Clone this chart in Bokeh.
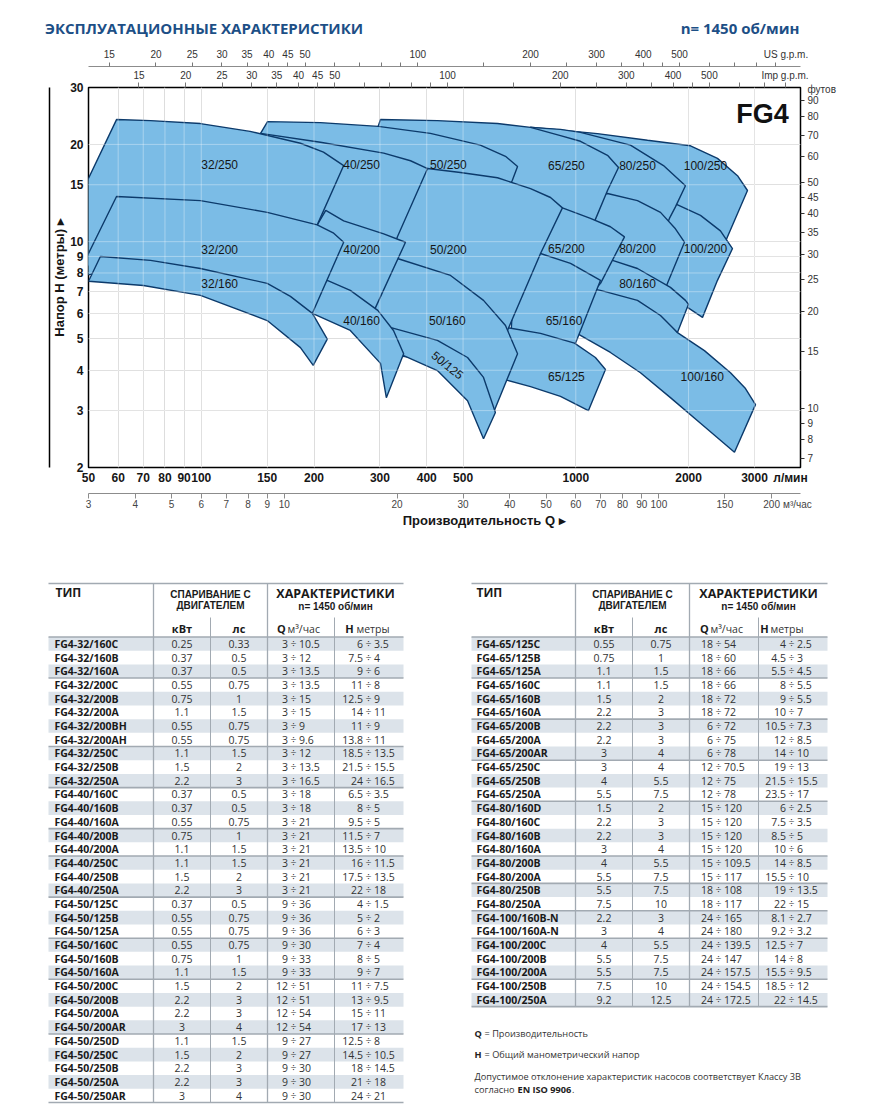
from bokeh.plotting import figure
from bokeh.models import (Range1d, LogScale, LogAxis, LinearAxis, FixedTicker,
                          BasicTickFormatter, ColumnDataSource)
from bokeh.embed import file_html
from bokeh.resources import INLINE
from bokeh.core.properties import value

# ---------------------------------------------------------------- data
# pump coverage areas, outline vertices: flow Q (l/min), head H (m)
q_100_250 = [757, 1142, 1554, 2024, 2389, 2702, 2873, 2541, 2404, 1903, 1164, 757]
h_100_250 = [22.6, 21.6, 20.6, 19.8, 18.1, 16.0, 14.4, 10.35, 8.87, 10.1, 13.4, 14.4]
q_100_200 = [1488, 1683, 1845, 2152, 2433, 2620, 2389, 2179, 1987, 1582, 1276]
h_100_200 = [14.4, 13.8, 13.1, 12.06, 10.8, 9.52, 7.59, 5.83, 6.26, 7.07, 8.44]
q_100_160 = [968, 1316, 1683, 1868, 2205, 2588, 2838, 3018, 2652, 2152, 1789, 1488, 1237, 1029, 938]
h_100_160 = [7.86, 7.16, 6.04, 5.23, 4.60, 3.93, 3.51, 3.13, 2.23, 2.74, 3.29, 3.93, 4.54, 5.13, 5.50]
q_80_250 = [757, 910, 1029, 1399, 1714, 1962, 1845, 1778, 1683, 1316, 1029, 757]
h_80_250 = [22.58, 22.26, 21.79, 19.9, 17.2, 14.9, 12.81, 11.80, 10.1, 11.2, 13.4, 17.8]
q_80_200 = [1029, 1215, 1461, 1683, 1845, 1950, 1757, 1683, 1316, 1094]
h_80_200 = [13.61, 14.10, 13.4, 12.32, 10.96, 9.96, 7.43, 6.58, 7.59, 9.39]
q_80_160 = [1094, 1253, 1461, 1789, 1962, 1999, 1868, 1683, 1461, 1164, 1061]
h_80_160 = [9.26, 8.75, 8.26, 7.22, 6.58, 6.40, 5.23, 5.91, 6.58, 7.07, 7.22]
q_65_250 = [301, 427, 618, 757, 910, 1029, 1215, 1300, 1215, 1128, 1061, 805, 463, 310, 296]
h_65_250 = [23.87, 23.7, 23.2, 22.58, 21.3, 20.45, 18.5, 16.96, 14.4, 11.72, 10.1, 11.2, 13.4, 15.5, 22.58]
q_65_200 = [712, 921, 1094, 1237, 1349, 1164, 1061, 805, 712]
h_65_200 = [13.4, 12.72, 11.80, 11.12, 10.35, 7.43, 6.58, 7.32, 8.14]
q_65_160 = [690, 805, 968, 1164, 998, 938, 669]
h_65_160 = [9.39, 9.19, 8.57, 7.59, 4.85, 4.44, 4.77]
q_65_125 = [610, 657, 805, 992, 1128, 1200, 1081, 910, 757, 657, 592]
h_65_125 = [5.31, 5.42, 5.20, 4.85, 4.38, 4.02, 3.00, 3.32, 3.56, 3.72, 3.77]
q_50_250 = [150.3, 208, 297, 409, 556, 649, 699, 677, 649, 409, 250, 146, 144]
h_50_250 = [23.53, 23.36, 22.74, 21.63, 19.9, 18.37, 17.08, 15.5, 13.9, 14.9, 17.2, 19.2, 21.63]
q_50_200 = [330, 402, 492, 618, 757, 856, 921, 805, 657, 629, 463, 330]
h_50_200 = [16.37, 16.84, 16.37, 15.77, 14.59, 13.70, 12.72, 9.19, 5.31, 4.77, 6.58, 8.14]
q_50_160 = [301, 334, 463, 567, 649, 699, 603, 574, 435, 330, 292, 283]
h_50_160 = [8.63, 8.87, 7.86, 6.58, 5.50, 4.50, 2.96, 2.80, 4.29, 4.44, 5.31, 6.58]
q_50_125 = [283, 314, 427, 514, 567, 610, 567, 514, 427, 347, 310]
h_50_125 = [5.62, 5.46, 4.95, 4.38, 3.80, 2.96, 2.455, 3.22, 3.99, 4.44, 4.60]
q_40_250 = [131, 144, 208, 307, 362, 402, 334, 320, 221, 184, 131]
h_40_250 = [20.6, 21.63, 20.31, 18.79, 17.8, 16.84, 10.35, 9.06, 11.2, 13.4, 14.4]
q_40_200 = [215, 240, 307, 351, 288, 280, 221, 202, 204]
h_40_200 = [12.5, 11.6, 10.57, 9.96, 6.04, 5.50, 6.58, 7.07, 11.27]
q_40_160 = [217, 250, 296, 326, 347, 312, 301, 250, 198, 184]
h_40_160 = [7.59, 7.07, 6.13, 5.31, 4.50, 3.29, 4.20, 5.31, 6.0, 6.13]
q_32_250 = [59.4, 73.2, 99.5, 135, 184, 212, 240, 204, 184, 73.2, 42.1, 42.1]
h_32_250 = [23.87, 23.7, 23.2, 21.94, 20.16, 18.93, 17.2, 11.27, 8.75, 8.44, 8.44, 10.35]
q_32_200 = [59.4, 99.5, 150, 204, 225, 240, 198, 184, 150, 99.5, 53.8, 42.1, 42.1]
h_32_200 = [13.80, 13.4, 12.32, 11.27, 10.65, 9.96, 6.0, 5.13, 6.58, 7.48, 8.03, 7.59, 6.13]
q_32_160 = [53.8, 73.2, 99.5, 150, 173, 198, 217, 199, 184, 150, 99.5, 70.1, 50]
h_32_160 = [9.0, 8.75, 8.26, 7.43, 6.77, 6.0, 4.99, 4.14, 4.70, 5.70, 6.82, 7.32, 7.54]

# drawing order: back to front
area_q = [q_100_250, q_100_200, q_100_160, q_80_250, q_80_200, q_80_160,
          q_65_250, q_65_200, q_65_160, q_65_125, q_50_250, q_50_200, q_50_160, q_50_125,
          q_40_250, q_40_200, q_40_160, q_32_250, q_32_200, q_32_160]
area_h = [h_100_250, h_100_200, h_100_160, h_80_250, h_80_200, h_80_160,
          h_65_250, h_65_200, h_65_160, h_65_125, h_50_250, h_50_200, h_50_160, h_50_125,
          h_40_250, h_40_200, h_40_160, h_32_250, h_32_200, h_32_160]

area_label = ["32/250", "40/250", "50/250", "65/250", "80/250", "100/250",
              "32/200", "40/200", "50/200", "65/200", "80/200", "100/200",
              "32/160", "40/160", "50/160", "65/160", "80/160", "100/160", "65/125"]
area_label_q = [112, 268, 457, 944, 1461, 2219, 112, 268, 457, 944, 1461, 2219,
                112, 268, 454, 930, 1461, 2176, 944]
area_label_h = [17.3, 17.3, 17.3, 17.2, 17.2, 17.2, 9.45, 9.45, 9.45, 9.52, 9.52, 9.52,
                7.37, 5.70, 5.70, 5.70, 7.37, 3.80, 3.80]
tilted_label = ["50/125"]
tilted_label_q = [454]
tilted_label_h = [4.14]

lmin_ticks = [50, 60, 70, 80, 90, 100, 150, 200, 300, 400, 500, 1000, 2000, 3000]
m3h_ticks = [3, 4, 5, 6, 7, 8, 9, 10, 20, 30, 40, 50, 60, 70, 80, 90, 100, 150, 200]
us_major = [15, 20, 25, 30, 35, 40, 45, 50, 100, 200, 300, 400, 500]
us_minor = [60, 70, 80, 90, 150, 250, 350, 450, 600, 700, 800, 900]
imp_major = [15, 20, 25, 30, 35, 40, 45, 50, 100, 200, 300, 400, 500]
imp_minor = [60, 70, 80, 90, 150, 250, 350, 450, 600, 700, 800]
h_ticks = [2, 3, 4, 5, 6, 7, 8, 9, 10, 15, 20, 30]
ft_ticks = [7, 8, 9, 10, 15, 20, 25, 30, 35, 40, 45, 50, 60, 70, 80, 90]
grid_q = [60, 70, 80, 90, 100, 150, 200, 300, 400, 500, 1000, 2000, 3000]
grid_h = [3, 4, 5, 6, 7, 8, 9, 10, 15, 20]

# ---- tables
lt_type = ["FG4-32/160C", "FG4-32/160B", "FG4-32/160A", "FG4-32/200C", "FG4-32/200B", "FG4-32/200A",
           "FG4-32/200BH", "FG4-32/200AH", "FG4-32/250C", "FG4-32/250B", "FG4-32/250A",
           "FG4-40/160C", "FG4-40/160B", "FG4-40/160A", "FG4-40/200B", "FG4-40/200A",
           "FG4-40/250C", "FG4-40/250B", "FG4-40/250A", "FG4-50/125C", "FG4-50/125B", "FG4-50/125A",
           "FG4-50/160C", "FG4-50/160B", "FG4-50/160A", "FG4-50/200C", "FG4-50/200B", "FG4-50/200A",
           "FG4-50/200AR", "FG4-50/250D", "FG4-50/250C", "FG4-50/250B", "FG4-50/250A", "FG4-50/250AR"]
lt_kw = ["0.25", "0.37", "0.37", "0.55", "0.75", "1.1", "0.55", "0.55", "1.1", "1.5", "2.2",
         "0.37", "0.37", "0.55", "0.75", "1.1", "1.1", "1.5", "2.2", "0.37", "0.55", "0.55",
         "0.55", "0.75", "1.1", "1.5", "2.2", "2.2", "3", "1.1", "1.5", "2.2", "2.2", "3"]
lt_hp = ["0.33", "0.5", "0.5", "0.75", "1", "1.5", "0.75", "0.75", "1.5", "2", "3",
         "0.5", "0.5", "0.75", "1", "1.5", "1.5", "2", "3", "0.5", "0.75", "0.75",
         "0.75", "1", "1.5", "2", "3", "3", "4", "1.5", "2", "3", "3", "4"]
lt_qmin = ["3"] * 19 + ["9", "9", "9", "9", "9", "9", "12", "12", "12", "12", "9", "9", "9", "9", "9"]
lt_qmax = ["10.5", "12", "13.5", "13.5", "15", "15", "9", "9.6", "12", "13.5", "16.5",
           "18", "18", "21", "21", "21", "21", "21", "21", "36", "36", "36",
           "30", "33", "33", "51", "51", "54", "54", "27", "27", "30", "30", "30"]
lt_hmax = ["6", "7.5", "9", "11", "12.5", "14", "11", "13.8", "18.5", "21.5", "24",
           "6.5", "8", "9.5", "11.5", "13.5", "16", "17.5", "22", "4", "5", "6",
           "7", "8", "9", "11", "13", "15", "17", "12.5", "14.5", "18", "21", "24"]
lt_hmin = ["3.5", "4", "6", "8", "9", "11", "9", "11", "13.5", "15.5", "16.5",
           "3.5", "5", "5", "7", "10", "11.5", "13.5", "18", "1.5", "2", "3",
           "4", "5", "7", "7.5", "9.5", "11", "13", "8", "10.5", "14.5", "18", "21"]
lt_groups = [3, 5, 3, 3, 2, 3, 3, 3, 4, 5]

rt_type = ["FG4-65/125C", "FG4-65/125B", "FG4-65/125A", "FG4-65/160C", "FG4-65/160B", "FG4-65/160A",
           "FG4-65/200B", "FG4-65/200A", "FG4-65/200AR", "FG4-65/250C", "FG4-65/250B", "FG4-65/250A",
           "FG4-80/160D", "FG4-80/160C", "FG4-80/160B", "FG4-80/160A", "FG4-80/200B", "FG4-80/200A",
           "FG4-80/250B", "FG4-80/250A", "FG4-100/160B-N", "FG4-100/160A-N", "FG4-100/200C",
           "FG4-100/200B", "FG4-100/200A", "FG4-100/250B", "FG4-100/250A"]
rt_kw = ["0.55", "0.75", "1.1", "1.1", "1.5", "2.2", "2.2", "2.2", "3", "3", "4", "5.5",
         "1.5", "2.2", "2.2", "3", "4", "5.5", "5.5", "7.5", "2.2", "3", "4", "5.5", "5.5", "7.5", "9.2"]
rt_hp = ["0.75", "1", "1.5", "1.5", "2", "3", "3", "3", "4", "4", "5.5", "7.5",
         "2", "3", "3", "4", "5.5", "7.5", "7.5", "10", "3", "4", "5.5", "7.5", "7.5", "10", "12.5"]
rt_qmin = ["18"] * 6 + ["6"] * 3 + ["12"] * 3 + ["15"] * 6 + ["18"] * 2 + ["24"] * 7
rt_qmax = ["54", "60", "66", "66", "72", "72", "72", "75", "78", "70.5", "75", "78",
           "120", "120", "120", "120", "109.5", "117", "108", "117", "165", "180", "139.5",
           "147", "157.5", "154.5", "172.5"]
rt_hmax = ["4", "4.5", "5.5", "8", "9", "10", "10.5", "12", "14", "19", "21.5", "23.5",
           "6", "7.5", "8.5", "10", "14", "15.5", "19", "22", "8.1", "9.2", "12.5", "14", "15.5", "18.5", "22"]
rt_hmin = ["2.5", "3", "4.5", "5.5", "5.5", "7", "7.3", "8.5", "10", "13", "15.5", "17",
           "2.5", "3.5", "5", "6", "8.5", "10", "13.5", "15", "2.7", "3.2", "7", "8", "9.5", "12", "14.5"]
rt_groups = [3, 3, 3, 3, 4, 2, 2, 2, 3, 2]

# ---------------------------------------------------------------- style
NARROW = "Liberation Sans"
SANS = "Liberation Sans"
OPEN = "Open Sans"
TITLE_BLUE = "#1d4f86"
FILL = "#7bbce6"
EDGE = "#0c3a6b"
SHADE = "#dce3ea"
RULE = "#a2aab2"

L_PER_USGAL = 3.78541
L_PER_IMPGAL = 4.54609
M3H_PER_LMIN = 0.06
M_PER_FT = 0.3048
Q_MIN, Q_MAX = 50, 3980
H_MIN, H_MAX = 2, 30

PAGE_W, PAGE_H = 877, 1117
FX0, FX1, FY0, FY1 = 88, 800, 87, 467      # plot frame on the page (px)
CHART_BOTTOM = 84                             # border below the frame
CHART_H = FY1 + CHART_BOTTOM


def q_at(px):
    return Q_MIN * (Q_MAX / Q_MIN) ** ((px - FX0) / (FX1 - FX0))


def h_at(py):
    return H_MIN * (H_MAX / H_MIN) ** ((FY1 - py) / (FY1 - FY0))


# positions of caption texts carried by axes (page px -> axis units)
title_ticks = [q_at(205.5), q_at(739.5)]
title_texts = ["ЭКСПЛУАТАЦИОННЫЕ  ХАРАКТЕРИСТИКИ", "n= 1450 об/мин"]
lmin_unit = q_at(790)
m3h_unit = q_at(797) * M3H_PER_LMIN
us_unit = q_at(785.5) / L_PER_USGAL
imp_unit = q_at(784.5) / L_PER_IMPGAL
ft_unit = h_at(89) / M_PER_FT
xtitle_tick = q_at(485.5)

# ---------------------------------------------------------------- chart
p = figure(x_axis_type="log", y_axis_type="log",
           x_range=Range1d(Q_MIN, Q_MAX), y_range=Range1d(H_MIN, H_MAX),
           frame_width=FX1 - FX0, frame_height=FY1 - FY0,
           min_border_left=FX0, min_border_right=PAGE_W - FX1, min_border_top=FY0,
           min_border_bottom=CHART_BOTTOM, toolbar_location=None, output_backend="svg")
p.outline_line_color = "black"
p.outline_line_width = 1.5

p.extra_x_ranges = {"us": Range1d(Q_MIN / L_PER_USGAL, Q_MAX / L_PER_USGAL),
                    "imp": Range1d(Q_MIN / L_PER_IMPGAL, Q_MAX / L_PER_IMPGAL),
                    "m3h": Range1d(Q_MIN * M3H_PER_LMIN, Q_MAX * M3H_PER_LMIN)}
p.extra_x_scales = {"us": LogScale(), "imp": LogScale(), "m3h": LogScale()}
p.extra_y_ranges = {"ft": Range1d(H_MIN / M_PER_FT, H_MAX / M_PER_FT)}
p.extra_y_scales = {"ft": LogScale()}

p.xgrid.ticker = FixedTicker(ticks=grid_q)
p.ygrid.ticker = FixedTicker(ticks=grid_h)
p.xgrid.grid_line_color = "#d6d6d6"
p.ygrid.grid_line_color = "#d6d6d6"

p.patches(xs=area_q, ys=area_h, fill_color=FILL, line_color=EDGE, line_width=1.4)
# light grid lines showing through the coloured areas
p.segment(x0=grid_q, x1=grid_q, y0=H_MIN, y1=H_MAX, line_color="white", line_alpha=0.35, line_width=1)
p.segment(x0=Q_MIN, x1=Q_MAX, y0=grid_h, y1=grid_h, line_color="white", line_alpha=0.35, line_width=1)

p.text(x=area_label_q, y=area_label_h, text=area_label, text_font=value(NARROW),
       text_font_size="12px", text_color="#161616", text_align="center", text_baseline="middle")
p.text(x=tilted_label_q, y=tilted_label_h, text=tilted_label, text_font=value(NARROW),
       text_font_size="12px", text_color="#161616", text_align="center", text_baseline="middle",
       angle=-0.68)
p.text(x=[q_at(762)], y=[h_at(113)], text=["FG4"], text_font=value(NARROW), text_font_size="27px",
       text_font_style="bold", text_color="#111111", text_align="center", text_baseline="middle")

# bottom axes
xa = p.xaxis[0]
xa.ticker = FixedTicker(ticks=lmin_ticks + [lmin_unit])
xa.formatter = BasicTickFormatter()
xa.major_label_overrides = {lmin_unit: "л/мин"}
xa.axis_line_color = None
xa.major_tick_line_color = None
xa.minor_tick_line_color = None
xa.major_tick_out = 0
xa.major_tick_in = 0
xa.major_label_standoff = 3
xa.major_label_text_font = NARROW
xa.major_label_text_font_style = "bold"
xa.major_label_text_font_size = "12px"
xa.major_label_text_color = "#161616"
xa.axis_label = " "
xa.axis_label_standoff = 0
xa.axis_label_text_font_size = "3px"

ma = LogAxis(x_range_name="m3h", ticker=FixedTicker(ticks=m3h_ticks + [m3h_unit], minor_ticks=m3h_ticks),
             formatter=BasicTickFormatter(), major_label_overrides={m3h_unit: "м³/час"},
             axis_line_color="#8c8c8c", major_tick_line_color=None, minor_tick_line_color="#8c8c8c",
             major_tick_out=0, major_tick_in=0, minor_tick_out=5, minor_tick_in=0,
             major_label_standoff=0, major_label_text_font=NARROW, major_label_text_font_size="10px",
             major_label_text_color="#444444")
p.add_layout(ma, "below")

xt = LogAxis(ticker=FixedTicker(ticks=[xtitle_tick]), formatter=BasicTickFormatter(),
             major_label_overrides={xtitle_tick: "Производительность  Q ▸"},
             axis_line_color=None, major_tick_line_color=None, minor_tick_line_color=None,
             major_tick_out=0, major_tick_in=0, major_label_standoff=0,
             major_label_text_font=SANS, major_label_text_font_style="bold",
             major_label_text_font_size="13px", major_label_text_color="#161616")
p.add_layout(xt, "below")

# top axes
ia = LogAxis(x_range_name="imp", ticker=FixedTicker(ticks=imp_major + [imp_unit], minor_ticks=imp_major + imp_minor),
             formatter=BasicTickFormatter(), major_label_overrides={imp_unit: "Imp g.p.m."},
             axis_line_color=None, major_tick_line_color=None, minor_tick_line_color="#777777",
             major_tick_out=0, major_tick_in=0, minor_tick_out=5, minor_tick_in=0,
             major_label_standoff=2, major_label_text_font=NARROW,
             major_label_text_font_size="10px", major_label_text_color="#333333")
p.add_layout(ia, "above")
ua = LogAxis(x_range_name="us", ticker=FixedTicker(ticks=us_major + [us_unit], minor_ticks=us_major + us_minor),
             formatter=BasicTickFormatter(), major_label_overrides={us_unit: "US g.p.m."},
             axis_line_color="#8c8c8c", major_tick_line_color=None, minor_tick_line_color="#777777",
             major_tick_out=0, major_tick_in=0, minor_tick_out=4, minor_tick_in=0,
             major_label_standoff=3, major_label_text_font=NARROW,
             major_label_text_font_size="10px", major_label_text_color="#333333")
p.add_layout(ua, "above")
ta = LogAxis(ticker=FixedTicker(ticks=title_ticks), formatter=BasicTickFormatter(),
             major_label_overrides=dict(zip(title_ticks, title_texts)),
             axis_line_color=None, major_tick_line_color=None, minor_tick_line_color=None,
             major_tick_out=0, major_tick_in=0, major_label_standoff=8,
             major_label_text_font=OPEN, major_label_text_font_style="bold",
             major_label_text_font_size="15px", major_label_text_color=TITLE_BLUE)
p.add_layout(ta, "above")

# right axis (feet)
fa = LogAxis(y_range_name="ft", ticker=FixedTicker(ticks=ft_ticks + [ft_unit], minor_ticks=ft_ticks),
             formatter=BasicTickFormatter(), major_label_overrides={ft_unit: "футов"},
             axis_line_color=None, major_tick_line_color=None, minor_tick_line_color="#333333",
             major_tick_out=0, major_tick_in=0, minor_tick_out=4, minor_tick_in=0,
             major_label_standoff=3, major_label_text_font=NARROW, major_label_text_font_size="10px",
             major_label_text_color="#333333")
p.add_layout(fa, "right")

# left axis
ya = p.yaxis[0]
ya.ticker = FixedTicker(ticks=h_ticks)
ya.formatter = BasicTickFormatter()
ya.axis_line_color = None
ya.major_tick_line_color = None
ya.minor_tick_line_color = None
ya.major_tick_out = 0
ya.major_tick_in = 0
ya.major_label_standoff = 5
ya.major_label_text_font = NARROW
ya.major_label_text_font_style = "bold"
ya.major_label_text_font_size = "12px"
ya.major_label_text_color = "#161616"
ya.axis_label = "Напор H (метры) ▸"
ya.axis_label_text_font = SANS
ya.axis_label_text_font_style = "bold"
ya.axis_label_text_font_size = "13px"
ya.axis_label_text_color = "#161616"
ya.axis_label_standoff = 0

side = LinearAxis(ticker=FixedTicker(ticks=[]), axis_line_color="black", axis_line_width=1.5,
                  major_tick_line_color=None, minor_tick_line_color=None,
                  major_tick_out=0, major_tick_in=0, major_label_standoff=0,
                  major_label_text_font_size="0px")
p.add_layout(side, "left")

# ---------------------------------------------------------------- tables
T_Y0 = CHART_H
T_H = PAGE_H - T_Y0
t = figure(x_range=Range1d(0, PAGE_W), y_range=Range1d(T_H, 0), frame_width=PAGE_W, frame_height=T_H,
           x_axis_type=None, y_axis_type=None, toolbar_location=None, output_backend="svg",
           min_border=0, outline_line_color=None)


def fy(py):
    return py - T_Y0


def tx(xs, ys, texts, size, style="normal", color="#222222", align="left", font=OPEN):
    src = ColumnDataSource(dict(x=list(xs), y=list(ys), t=list(texts)))
    t.text(x="x", y="y", text="t", source=src, text_font=value(font), text_font_size=size,
           text_font_style=style, text_color=color, text_align=align, text_baseline="middle")


HEAD_TOP, SUB_TOP, ROW_TOP, ROW_H = 583, 617, 636.5, 13.69
LEFT = dict(x0=48, c1=153, c2=210, c3=267, c4=334, x1=403, name=54, tip=55,
            qdiv=293, hdiv=368, qlab=281, qunit=287, hlab=349, hunit=356)
RIGHT = dict(x0=471, c1=575, c2=632, c3=689, c4=758, x1=827, name=476, tip=476,
             qdiv=718, hdiv=791, qlab=704, qunit=710, hlab=764, hunit=770)


def draw_table(g, types, kw, hp, qmin, qmax, hmax, hmin, groups):
    n = len(types)
    bottom = ROW_TOP + n * ROW_H
    shaded = [i for i in range(n) if i % 2 == 0]
    t.quad(left=g["x0"], right=g["x1"],
           top=[fy(ROW_TOP + i * ROW_H) for i in shaded],
           bottom=[fy(ROW_TOP + (i + 1) * ROW_H) for i in shaded],
           fill_color=SHADE, line_color=None)
    ys = [HEAD_TOP, ROW_TOP]
    acc = 0
    for gsize in groups[:-1]:
        acc += gsize
        ys.append(ROW_TOP + acc * ROW_H)
    ys.append(bottom)
    t.segment(x0=g["x0"], x1=g["x1"], y0=[fy(v) for v in ys], y1=[fy(v) for v in ys],
              line_color=RULE, line_width=1.6)
    t.segment(x0=[g["c1"], g["c3"]], x1=[g["c1"], g["c3"]],
              y0=fy(HEAD_TOP), y1=fy(bottom), line_color=RULE, line_width=1.3)
    t.segment(x0=[g["c2"], g["c4"]], x1=[g["c2"], g["c4"]],
              y0=fy(SUB_TOP), y1=fy(bottom), line_color=RULE, line_width=1.0)
    mid_a = (g["c1"] + g["c3"]) / 2
    mid_b = (g["c3"] + g["x1"]) / 2
    tx([g["tip"]], [fy(592)], ["ТИП"], "12px", "bold", "#1a1a1a")
    tx([mid_a, mid_a], [fy(594), fy(605)], ["СПАРИВАНИЕ С", "ДВИГАТЕЛЕМ"], "10px", "bold",
       "#1a1a1a", "center", NARROW)
    tx([mid_b], [fy(593)], ["ХАРАКТЕРИСТИКИ"], "12.5px", "bold", "#1a1a1a", "center")
    tx([mid_b], [fy(606)], ["n= 1450 об/мин"], "10px", "bold", "#1a1a1a", "center", NARROW)
    tx([(g["c1"] + g["c2"]) / 2, (g["c2"] + g["c3"]) / 2], [fy(628)] * 2, ["кВт", "лс"],
       "11px", "bold", "#1a1a1a", "center")
    tx([g["qlab"], g["hlab"]], [fy(628)] * 2, ["Q", "H"], "11px", "bold", "#1a1a1a", "center")
    tx([g["qunit"], g["hunit"]], [fy(628)] * 2, ["м³/час", "метры"], "10.5px", "normal", "#333333")
    yc = [fy(ROW_TOP + (i + 0.5) * ROW_H) for i in range(n)]
    tx([g["name"]] * n, yc, types, "10.5px", "bold", "#1a1a1a")
    tx([(g["c1"] + g["c2"]) / 2] * n, yc, kw, "10.5px", "normal", "#333333", "center")
    tx([(g["c2"] + g["c3"]) / 2] * n, yc, hp, "10.5px", "normal", "#333333", "center")
    for div, lo, hi in ((g["qdiv"], qmin, qmax), (g["hdiv"], hmax, hmin)):
        tx([div - 5.5] * n, yc, lo, "10.5px", "normal", "#333333", "right")
        tx([div] * n, yc, ["÷"] * n, "10.5px", "normal", "#333333", "center")
        tx([div + 5.5] * n, yc, hi, "10.5px", "normal", "#333333", "left")


draw_table(LEFT, lt_type, lt_kw, lt_hp, lt_qmin, lt_qmax, lt_hmax, lt_hmin, lt_groups)
draw_table(RIGHT, rt_type, rt_kw, rt_hp, rt_qmin, rt_qmax, rt_hmax, rt_hmin, rt_groups)

NOTE = "9.2px"
tx([474, 474], [fy(1033), fy(1054)], ["Q", "H"], NOTE, "bold", "#222222")
tx([484, 484], [fy(1033), fy(1054)], ["= Производительность", "= Общий манометрический напор"],
   NOTE, "normal", "#333333")
tx([474, 474], [fy(1076), fy(1089)],
   ["Допустимое отклонение характеристик насосов соответствует Классу 3B", "согласно"],
   NOTE, "normal", "#333333")
tx([517], [fy(1089)], ["EN ISO 9906"], NOTE, "bold", "#222222")
tx([571.5], [fy(1089)], ["."], NOTE, "normal", "#333333")

with open("out.html", "w", encoding="utf-8") as f:
    f.write(file_html([p, t], INLINE))
